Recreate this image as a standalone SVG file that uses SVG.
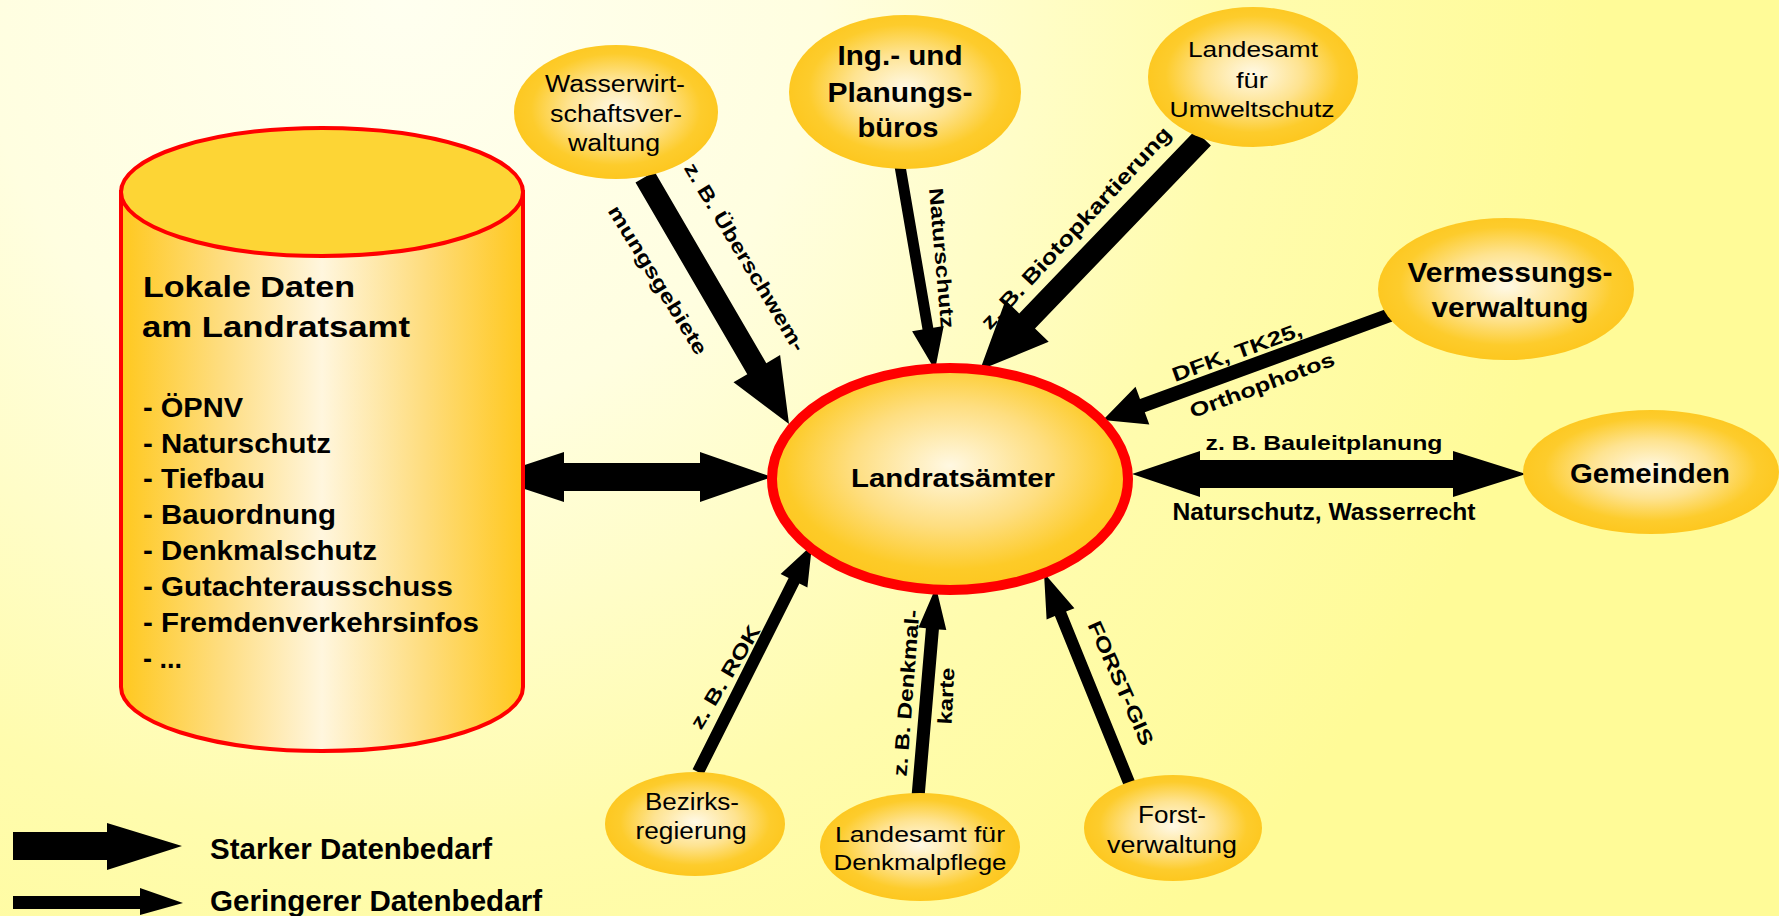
<svg xmlns="http://www.w3.org/2000/svg" width="1779" height="916" viewBox="0 0 1779 916">
<defs>
<radialGradient id="bg" gradientUnits="userSpaceOnUse" cx="400" cy="0" r="1200">
<stop offset="0" stop-color="#FFFFF0"/>
<stop offset="0.35" stop-color="#FFFEE0"/>
<stop offset="0.7" stop-color="#FFFCAE"/>
<stop offset="1" stop-color="#FFFB98"/>
</radialGradient>
<radialGradient id="ball" cx="50%" cy="48%" r="52%">
<stop offset="0" stop-color="#FFF9E6"/>
<stop offset="0.45" stop-color="#FEE390"/>
<stop offset="0.8" stop-color="#FDCC2C"/>
<stop offset="1" stop-color="#FDC71F"/>
</radialGradient>
<radialGradient id="center" cx="50%" cy="44%" r="55%">
<stop offset="0" stop-color="#FFF8E2"/>
<stop offset="0.5" stop-color="#FEDE80"/>
<stop offset="0.85" stop-color="#FDCB28"/>
<stop offset="1" stop-color="#FDC71F"/>
</radialGradient>
<linearGradient id="cyl" x1="0" y1="0" x2="1" y2="0">
<stop offset="0" stop-color="#FFC81E"/>
<stop offset="0.25" stop-color="#FEDD80"/>
<stop offset="0.5" stop-color="#FFF6DE"/>
<stop offset="0.75" stop-color="#FEDD80"/>
<stop offset="1" stop-color="#FFC81E"/>
</linearGradient>
<style>
.t{font-family:"Liberation Sans",Arial,sans-serif;fill:#000}
.b{font-weight:bold}
.n{fill:url(#ball)}
.arr{fill:#000}
</style>
</defs>
<rect x="0" y="0" width="1779" height="916" fill="url(#bg)"/>

<g id="connectors">
<polygon class="arr" points="488,477 564,452 564,463 700,463 700,452 772,477 700,502 700,491 564,491 564,502"/>
<polygon class="arr" points="1132,474 1200,451 1200,460 1453,460 1453,451 1526,474 1453,497 1453,488 1200,488 1200,497"/>
<polygon class="arr" points="635.5,182.5 747.3,374.2 733.5,382.3 789,424 780.1,355.1 766.3,363.2 654.5,171.5"/>
<polygon class="arr" points="1195.1,130.4 1019.2,313.4 1005.5,300.2 980,370 1048.7,341.8 1035,328.6 1210.9,145.6"/>
<polygon class="arr" points="894.6,166.9 922.5,329.5 912.1,331.3 935,370 943.7,325.9 933.3,327.7 905.4,165.1"/>
<polygon class="arr" points="1387.6,308.4 1140,399 1135.5,386.8 1103,420 1149.3,424.4 1144.8,412.2 1392.4,321.6"/>
<polygon class="arr" points="703.4,774.7 799.4,583.5 807.4,587.5 812,545 780.6,574.1 788.6,578.1 692.6,769.3"/>
<polygon class="arr" points="924.5,797.6 938.9,629.4 946.3,630 936,587 918.5,627.6 925.9,628.2 911.5,796.4"/>
<polygon class="arr" points="1135.6,782.7 1066.1,611.5 1074.4,608.2 1044,573 1046.6,619.4 1054.9,616.1 1124.4,787.3"/>
<g id="connector-labels" class="t b" font-size="20" text-anchor="middle">
<text transform="translate(745 257) rotate(59)" y="7" textLength="216" lengthAdjust="spacingAndGlyphs">z. B. Überschwem-</text>
<text transform="translate(658 280) rotate(58.5)" y="7" textLength="171" lengthAdjust="spacingAndGlyphs">mungsgebiete</text>
<text transform="translate(942 258) rotate(85)" y="7" textLength="141" lengthAdjust="spacingAndGlyphs">Naturschutz</text>
<text transform="translate(1076 228) rotate(-47)" y="7" font-size="21" textLength="268" lengthAdjust="spacingAndGlyphs">z. B. Biotopkartierung</text>
<text transform="translate(1237 352) rotate(-20)" y="7" textLength="137" lengthAdjust="spacingAndGlyphs">DFK, TK25,</text>
<text transform="translate(1262 385) rotate(-20.5)" y="7" textLength="153" lengthAdjust="spacingAndGlyphs">Orthophotos</text>
<text transform="translate(725 677) rotate(-59)" y="7" textLength="117" lengthAdjust="spacingAndGlyphs">z. B. ROK</text>
<text transform="translate(906 693) rotate(-85.5)" y="7" textLength="167" lengthAdjust="spacingAndGlyphs">z. B. Denkmal-</text>
<text transform="translate(946 696) rotate(-87)" y="7" textLength="57" lengthAdjust="spacingAndGlyphs">karte</text>
<text transform="translate(1121 683) rotate(66)" y="7" textLength="134" lengthAdjust="spacingAndGlyphs">FORST-GIS</text>
<text x="1324" y="450" font-size="21" textLength="237" lengthAdjust="spacingAndGlyphs">z. B. Bauleitplanung</text>
<text x="1324" y="520" font-size="23" textLength="303" lengthAdjust="spacingAndGlyphs">Naturschutz, Wasserrecht</text>
</g>
</g>

<g id="lokale-daten">
<path d="M121,192 V687 A201,64 0 0 0 523,687 V192 Z" fill="url(#cyl)" stroke="#FF0000" stroke-width="4"/>
<ellipse cx="322" cy="192" rx="201" ry="64" fill="#FDD535" stroke="#FF0000" stroke-width="4"/>
<g class="t b" font-size="30">
<text x="143" y="297" textLength="212" lengthAdjust="spacingAndGlyphs">Lokale Daten</text>
<text x="142" y="337" textLength="268" lengthAdjust="spacingAndGlyphs">am Landratsamt</text>
</g>
<g class="t b" font-size="27">
<text x="143" y="417" textLength="100" lengthAdjust="spacingAndGlyphs">- ÖPNV</text>
<text x="143" y="453" textLength="188" lengthAdjust="spacingAndGlyphs">- Naturschutz</text>
<text x="143" y="488" textLength="122" lengthAdjust="spacingAndGlyphs">- Tiefbau</text>
<text x="143" y="524" textLength="193" lengthAdjust="spacingAndGlyphs">- Bauordnung</text>
<text x="143" y="560" textLength="234" lengthAdjust="spacingAndGlyphs">- Denkmalschutz</text>
<text x="143" y="596" textLength="310" lengthAdjust="spacingAndGlyphs">- Gutachterausschuss</text>
<text x="143" y="632" textLength="336" lengthAdjust="spacingAndGlyphs">- Fremdenverkehrsinfos</text>
<text x="143" y="668" textLength="39" lengthAdjust="spacingAndGlyphs">- ...</text>
</g>
</g>

<g id="landratsaemter">
<ellipse cx="950" cy="479" rx="178" ry="111" fill="url(#center)" stroke="#FF0000" stroke-width="10"/>
<text class="t b" x="953" y="487" font-size="25" text-anchor="middle" textLength="204" lengthAdjust="spacingAndGlyphs">Landratsämter</text>
</g>

<g id="wasserwirtschaft">
<ellipse class="n" cx="616" cy="112" rx="102" ry="67"/>
<g class="t" font-size="23" text-anchor="middle">
<text x="615" y="92" textLength="140" lengthAdjust="spacingAndGlyphs">Wasserwirt-</text>
<text x="616" y="122" textLength="132" lengthAdjust="spacingAndGlyphs">schaftsver-</text>
<text x="614" y="151" textLength="92" lengthAdjust="spacingAndGlyphs">waltung</text>
</g>
</g>

<g id="ingenieurbueros">
<ellipse class="n" cx="905" cy="92" rx="116" ry="77"/>
<g class="t b" font-size="27" text-anchor="middle">
<text x="900" y="65" textLength="125" lengthAdjust="spacingAndGlyphs">Ing.- und</text>
<text x="900" y="102" textLength="145" lengthAdjust="spacingAndGlyphs">Planungs-</text>
<text x="898" y="137" textLength="81" lengthAdjust="spacingAndGlyphs">büros</text>
</g>
</g>

<g id="landesamt-umwelt">
<ellipse class="n" cx="1253" cy="77" rx="105" ry="70"/>
<g class="t" font-size="22" text-anchor="middle">
<text x="1253" y="57" textLength="130" lengthAdjust="spacingAndGlyphs">Landesamt</text>
<text x="1252" y="88" textLength="32" lengthAdjust="spacingAndGlyphs">für</text>
<text x="1252" y="117" textLength="165" lengthAdjust="spacingAndGlyphs">Umweltschutz</text>
</g>
</g>

<g id="vermessung">
<ellipse class="n" cx="1506" cy="289" rx="128" ry="71"/>
<g class="t b" font-size="27" text-anchor="middle">
<text x="1510" y="282" textLength="205" lengthAdjust="spacingAndGlyphs">Vermessungs-</text>
<text x="1510" y="317" textLength="157" lengthAdjust="spacingAndGlyphs">verwaltung</text>
</g>
</g>

<g id="gemeinden">
<ellipse class="n" cx="1651" cy="472" rx="128" ry="62"/>
<text class="t b" x="1650" y="483" font-size="27" text-anchor="middle" textLength="160" lengthAdjust="spacingAndGlyphs">Gemeinden</text>
</g>

<g id="bezirksregierung">
<ellipse class="n" cx="695" cy="824" rx="90" ry="52"/>
<g class="t" font-size="23" text-anchor="middle">
<text x="692" y="810" textLength="94" lengthAdjust="spacingAndGlyphs">Bezirks-</text>
<text x="691" y="839" textLength="111" lengthAdjust="spacingAndGlyphs">regierung</text>
</g>
</g>

<g id="landesamt-denkmal">
<ellipse class="n" cx="920" cy="847" rx="100" ry="54"/>
<g class="t" font-size="22" text-anchor="middle">
<text x="920" y="842" textLength="170" lengthAdjust="spacingAndGlyphs">Landesamt für</text>
<text x="920" y="870" textLength="173" lengthAdjust="spacingAndGlyphs">Denkmalpflege</text>
</g>
</g>

<g id="forstverwaltung">
<ellipse class="n" cx="1173" cy="828" rx="89" ry="53"/>
<g class="t" font-size="23" text-anchor="middle">
<text x="1172" y="823" textLength="68" lengthAdjust="spacingAndGlyphs">Forst-</text>
<text x="1172" y="853" textLength="130" lengthAdjust="spacingAndGlyphs">verwaltung</text>
</g>
</g>

<g id="legend">
<polygon class="arr" points="13,832 107,832 107,823 182,846 107,870 107,860 13,860"/>
<polygon class="arr" points="13,896 140,896 140,888 183,903 140,915 140,909 13,909"/>
<g class="t b" font-size="30">
<text x="210" y="859" textLength="282" lengthAdjust="spacingAndGlyphs">Starker Datenbedarf</text>
<text x="210" y="911" textLength="332" lengthAdjust="spacingAndGlyphs">Geringerer Datenbedarf</text>
</g>
</g>
</svg>
